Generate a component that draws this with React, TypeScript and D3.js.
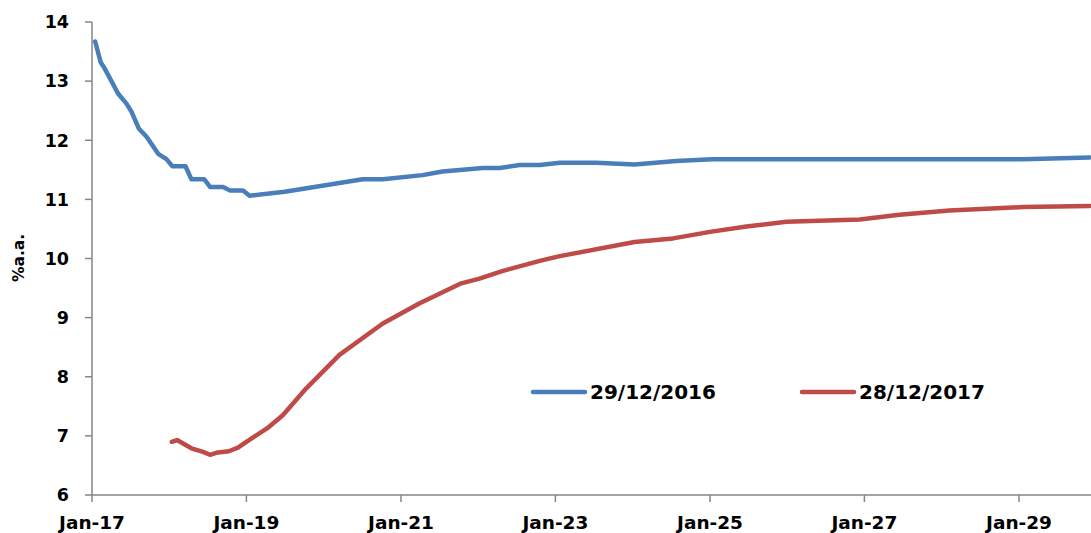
import React from "react";
import * as d3 from "d3";

const blueDates = ["2017-01-16","2017-02-11","2017-03-01","2017-05-04","2017-06-13","2017-07-07","2017-08-10","2017-09-16","2017-11-10","2017-12-19","2018-01-16","2018-03-19","2018-04-16","2018-06-16","2018-07-13","2018-09-13","2018-10-16","2018-12-16","2019-01-16","2019-07-01","2020-07-04","2020-10-07","2021-04-13","2021-07-16","2022-01-22","2022-04-13","2022-07-16","2022-10-19","2023-01-22","2023-07-13","2024-01-10","2024-07-25","2025-01-10","2029-01-19","2029-12-01"];
const blueValues = [13.67,13.32,13.22,12.79,12.62,12.48,12.20,12.06,11.77,11.68,11.56,11.56,11.34,11.34,11.21,11.21,11.15,11.15,11.06,11.13,11.34,11.34,11.41,11.47,11.53,11.53,11.58,11.58,11.62,11.62,11.59,11.65,11.68,11.68,11.71];

const redDates = ["2018-01-13","2018-02-07","2018-04-16","2018-06-10","2018-07-13","2018-08-19","2018-10-10","2018-11-22","2019-01-01","2019-04-10","2019-06-22","2019-08-25","2019-10-10","2020-03-16","2020-10-07","2021-03-28","2021-10-13","2022-01-07","2022-04-28","2022-10-19","2023-01-22","2024-01-10","2024-07-10","2025-01-01","2025-06-22","2025-12-28","2026-12-10","2027-06-16","2028-02-07","2029-01-19","2029-12-01"];
const redValues = [6.90,6.93,6.79,6.73,6.68,6.72,6.74,6.80,6.90,7.13,7.35,7.61,7.80,8.37,8.90,9.24,9.58,9.66,9.79,9.96,10.04,10.28,10.34,10.45,10.54,10.62,10.66,10.74,10.81,10.87,10.89];

const seriesNames = ["29/12/2016", "28/12/2017"];
const seriesColors = ["#4A7EBB", "#BE4B48"];
const xTickDates = ["2017-01-01","2019-01-01","2021-01-01","2023-01-01","2025-01-01","2027-01-01","2029-01-01"];
const xTickLabels = ["Jan-17","Jan-19","Jan-21","Jan-23","Jan-25","Jan-27","Jan-29"];
const yTicks = [6, 7, 8, 9, 10, 11, 12, 13, 14];
const yLabel = "%a.a.";

const W = 1091, H = 533;
const parse = d3.timeParse("%Y-%m-%d");
const FONT = "'DejaVu Sans', Verdana, sans-serif";

export default function App() {
  const x = d3.scaleTime()
    .domain([parse("2017-01-01")!, parse("2029-01-01")!])
    .range([92, 1019]);
  const y = d3.scaleLinear().domain([6, 14]).range([495, 22]);
  const line = d3.line<[Date, number]>()
    .x((d) => x(d[0]))
    .y((d) => y(d[1]));
  const blue: [Date, number][] = blueDates.map((d, i) => [parse(d)!, blueValues[i]]);
  const red: [Date, number][] = redDates.map((d, i) => [parse(d)!, redValues[i]]);
  const axisColor = "#868686";
  return (
    <svg width={W} height={H} style={{ position: "absolute", left: 0, top: 0, background: "#fff" }}>
      {/* axes */}
      <line x1={92} x2={92} y1={y(14)} y2={y(6)} stroke={axisColor} strokeWidth={1.5} />
      <line x1={92} x2={W} y1={y(6)} y2={y(6)} stroke={axisColor} strokeWidth={1.5} />
      {yTicks.map((t) => (
        <g key={t}>
          <line x1={85} x2={92} y1={y(t)} y2={y(t)} stroke={axisColor} strokeWidth={1.5} />
          <text x={69} y={y(t)} dy="0.36em" textAnchor="end" fontFamily={FONT} fontWeight="bold" fontSize={17.5} fill="#000">{t}</text>
        </g>
      ))}
      {xTickDates.map((d, i) => {
        const px = x(parse(d)!);
        return (
          <g key={d}>
            <line x1={px} x2={px} y1={y(6)} y2={y(6) + 7} stroke={axisColor} strokeWidth={1.5} />
            <text x={px} y={529} textAnchor="middle" fontFamily={FONT} fontWeight="bold" fontSize={18.5} fill="#000">{xTickLabels[i]}</text>
          </g>
        );
      })}
      <text transform="translate(24,258) rotate(-90)" textAnchor="middle" fontFamily={FONT} fontWeight="bold" fontSize={15.5} fill="#000">{yLabel}</text>
      {/* series */}
      <path d={line(blue)!} fill="none" stroke={seriesColors[0]} strokeWidth={4.5} strokeLinejoin="round" strokeLinecap="round" />
      <path d={line(red)!} fill="none" stroke={seriesColors[1]} strokeWidth={4.5} strokeLinejoin="round" strokeLinecap="round" />
      {/* legend */}
      {seriesNames.map((n, i) => {
        const lx = [533, 802][i];
        return (
          <g key={n}>
            <line x1={lx} x2={lx + 52} y1={392} y2={392} stroke={seriesColors[i]} strokeWidth={4.5} strokeLinecap="round" />
            <text x={lx + 57} y={392} dy="0.36em" fontFamily={FONT} fontWeight="bold" fontSize={20} fill="#000">{n}</text>
          </g>
        );
      })}
    </svg>
  );
}
